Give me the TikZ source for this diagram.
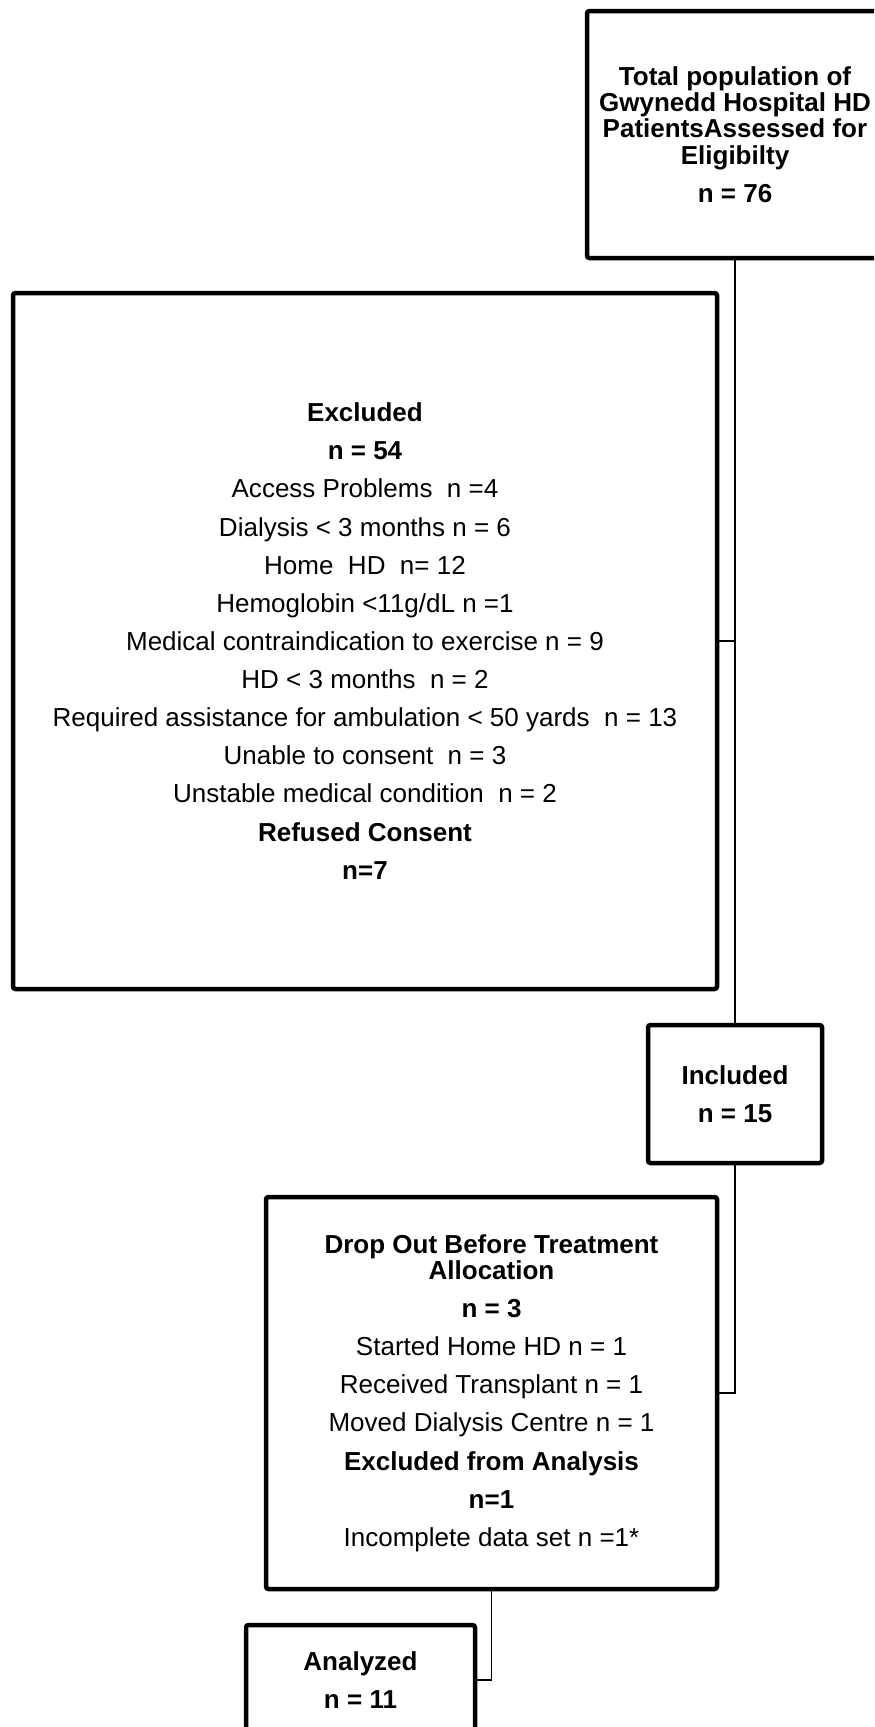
\documentclass[tikz,border=0pt]{standalone}
\usepackage{fontspec}
\setmainfont{Liberation Sans}
\usetikzlibrary{calc}

\newcommand{\skipline}{\\[6.7pt]}

\begin{document}
\begin{tikzpicture}[
  font=\fontsize{14.8}{15}\selectfont,
  box/.style={draw, line width=0.9mm, rounded corners=0.5mm, fill=white, align=center, inner sep=2pt},
  link/.style={line width=0.3mm}
]
  \clip (0,0) rectangle (17.48,-34.54);
  \fill[white] (0,0) rectangle (17.48,-34.54);

  % Eligibility
  \node[box, minimum width=5.92cm, minimum height=4.94cm] (total) at (14.70,-2.69)
    {\textbf{Total population of}\\\textbf{Gwynedd Hospital HD}\\\textbf{PatientsAssessed for}\\\textbf{Eligibilty}\skipline
     \textbf{n = 76}};

  % Excluded
  \node[box, minimum width=14.08cm, minimum height=13.92cm] (excl) at (7.30,-12.82)
    {\textbf{Excluded}\skipline
     \textbf{n = 54}\skipline
     Access Problems~ n =4\skipline
     Dialysis < 3 months n = 6\skipline
     Home~ HD~ n= 12\skipline
     Hemoglobin <11g/dL n =1\skipline
     Medical contraindication to exercise n = 9\skipline
     HD < 3 months~ n = 2\skipline
     Required assistance for ambulation < 50 yards~ n = 13\skipline
     Unable to consent~ n = 3\skipline
     Unstable medical condition~ n = 2\skipline
     \textbf{Refused Consent}\skipline
     \textbf{n=7}};

  % Included
  \node[box, minimum width=3.48cm, minimum height=2.76cm] (incl) at (14.70,-21.88)
    {\textbf{Included}\skipline\textbf{n = 15}};

  % Drop out
  \node[box, minimum width=9.02cm, minimum height=7.84cm] (drop) at (9.83,-27.86)
    {\textbf{Drop Out Before Treatment}\\\textbf{Allocation}\skipline
     \textbf{n = 3}\skipline
     Started Home HD n = 1\skipline
     Received Transplant n = 1\skipline
     Moved Dialysis Centre n = 1\skipline
     \textbf{Excluded from Analysis}\skipline
     \textbf{n=1}\skipline
     Incomplete data set n =1*};

  % Analyzed
  \node[box, minimum width=4.58cm, minimum height=2.20cm] (analyzed) at (7.21,-33.60)
    {\textbf{Analyzed}\skipline\textbf{n = 11}};

  % Connectors
  \draw[link] (total) -- (incl);
  \draw[link] (excl.east) -- (excl.east -| total.south);
  \draw[link] (incl.south) |- (drop.east);
  \draw[link] (drop.south) |- (analyzed.east);
\end{tikzpicture}
\end{document}
